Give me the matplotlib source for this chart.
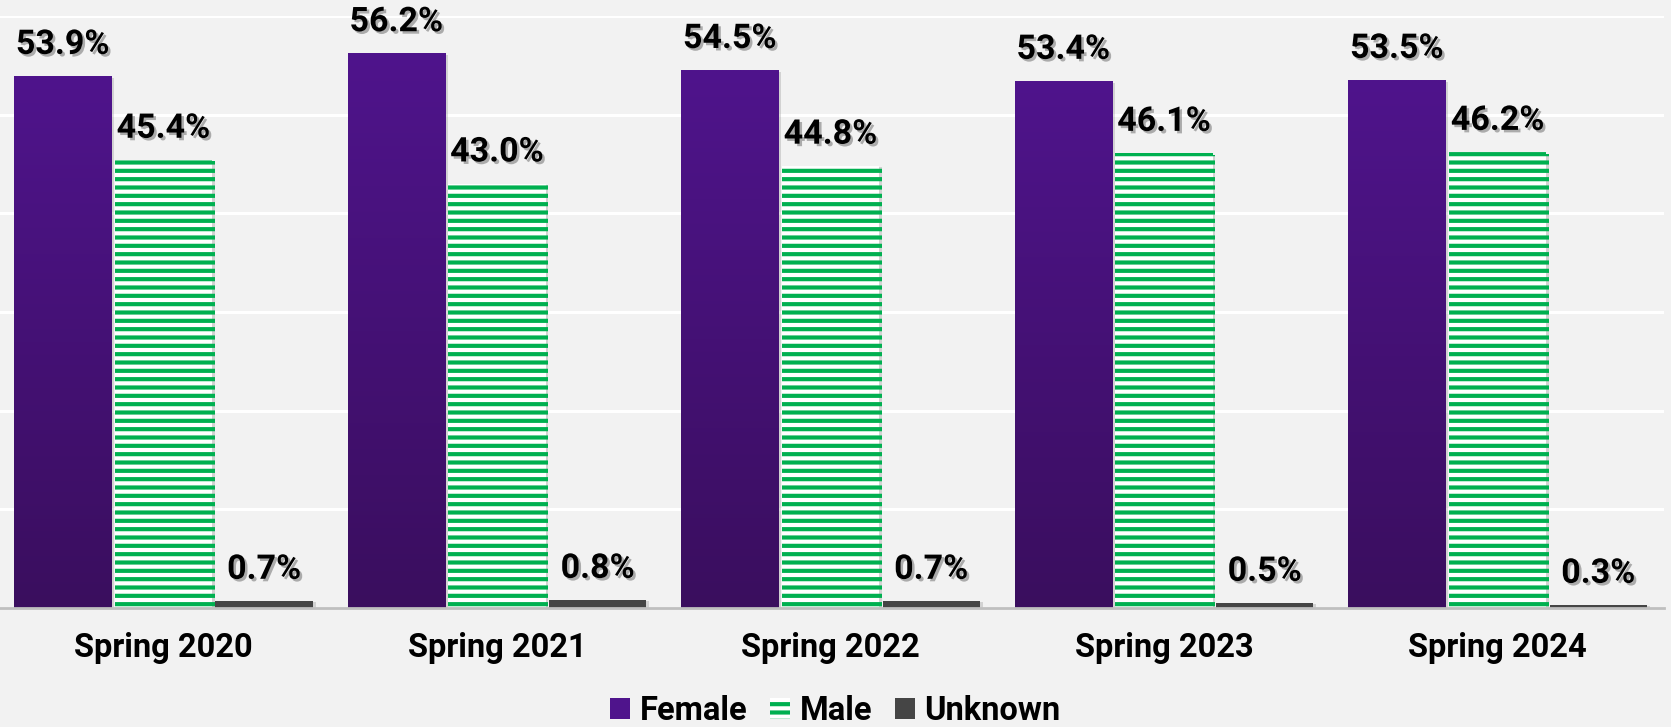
import matplotlib
matplotlib.use("Agg")
import matplotlib.pyplot as plt
import matplotlib.patheffects as pe
from matplotlib.colors import LinearSegmentedColormap
from matplotlib.patches import Patch
import numpy as np

semestres = ["Spring 2020", "Spring 2021", "Spring 2022", "Spring 2023", "Spring 2024"]
feminino = [53.9, 56.2, 54.5, 53.4, 53.5]
masculino = [45.4, 43.0, 44.8, 46.1, 46.2]
desconhecido = [0.7, 0.8, 0.7, 0.5, 0.3]

ROXO_TOPO = "#4F148C"
ROXO_BASE = "#3A0E5E"
VERDE = "#00B050"
CINZA = "#454545"
FUNDO = "#F2F2F2"

plt.rcParams["font.family"] = ["Roboto", "DejaVu Sans"]
plt.rcParams["font.weight"] = "bold"
plt.rcParams["hatch.linewidth"] = 3.0


def sombra():
    return [pe.withSimplePatchShadow(offset=(1.8, -1.8), shadow_rgbFace="#555555", alpha=0.45)]


def mostra_grafico():
    fig = plt.figure(figsize=(16.71, 7.27), dpi=100, facecolor=FUNDO)
    ax = fig.add_axes([-0.002, 0.1637, 0.998, 0.8143])
    ax.set_facecolor(FUNDO)

    x = np.arange(len(semestres))
    width = 0.292
    passo = 0.302

    barras_f = ax.bar(x - passo, feminino, width, color=ROXO_TOPO, zorder=3)
    barras_m = ax.bar(x, masculino, width, color="white", edgecolor=VERDE,
                      hatch="--", linewidth=0, zorder=3)
    barras_u = ax.bar(x + passo, desconhecido, width, color=CINZA, zorder=3)

    for barras in (barras_f, barras_m, barras_u):
        for b in barras:
            b.set_path_effects([pe.SimplePatchShadow(offset=(2, -1), shadow_rgbFace="#999999", alpha=0.35), pe.Normal()])

    # degradê no roxo
    cmap = LinearSegmentedColormap.from_list("roxo", [ROXO_BASE, ROXO_TOPO])
    grad = np.linspace(0, 1, 256).reshape(-1, 1)
    for b in barras_f:
        bx, by = b.get_x(), b.get_y()
        bw, bh = b.get_width(), b.get_height()
        im = ax.imshow(grad, cmap=cmap, origin="lower", aspect="auto",
                       extent=(bx, bx + bw, by, by + bh), zorder=3.5)
        im.set_clip_path(b)

    for barras in (barras_f, barras_m, barras_u):
        rotulos = ax.bar_label(barras, fmt="%.1f%%", padding=11, fontsize=24.5,
                               fontweight="bold", color="black", zorder=5)
        for r in rotulos:
            r.set_path_effects(sombra())

    ax.set_xlim(-0.5, 4.5)
    ax.set_ylim(0, 60)
    ax.set_yticks(np.arange(0, 61, 10))
    ax.yaxis.grid(True, color="white", linewidth=2.2, zorder=0)
    ax.set_axisbelow(True)
    ax.tick_params(axis="y", left=False, labelleft=False)
    ax.tick_params(axis="x", bottom=False, pad=14, labelsize=23.5)
    ax.set_xticks(x, semestres)
    for t in ax.get_xticklabels():
        t.set_fontweight("bold")
    for lado in ("top", "left", "right"):
        ax.spines[lado].set_visible(False)
    ax.spines["bottom"].set_color("#BFBFBF")
    ax.spines["bottom"].set_linewidth(2)
    ax.spines["bottom"].set_zorder(4)

    alcas = [
        Patch(facecolor=ROXO_TOPO, label="Female"),
        Patch(facecolor="white", edgecolor=VERDE, hatch="--", linewidth=0, label="Male"),
        Patch(facecolor=CINZA, label="Unknown"),
    ]
    fig.legend(handles=alcas, loc="lower center", bbox_to_anchor=(0.5, -0.04), ncol=3,
               frameon=False, prop={"weight": "bold", "size": 23.5},
               handlelength=0.6, handleheight=0.6, handletextpad=0.3, columnspacing=0.7)

    fig.savefig("out.png", dpi=100, facecolor=FUNDO)


def main():
    mostra_grafico()


if __name__ == "__main__":
    main()
